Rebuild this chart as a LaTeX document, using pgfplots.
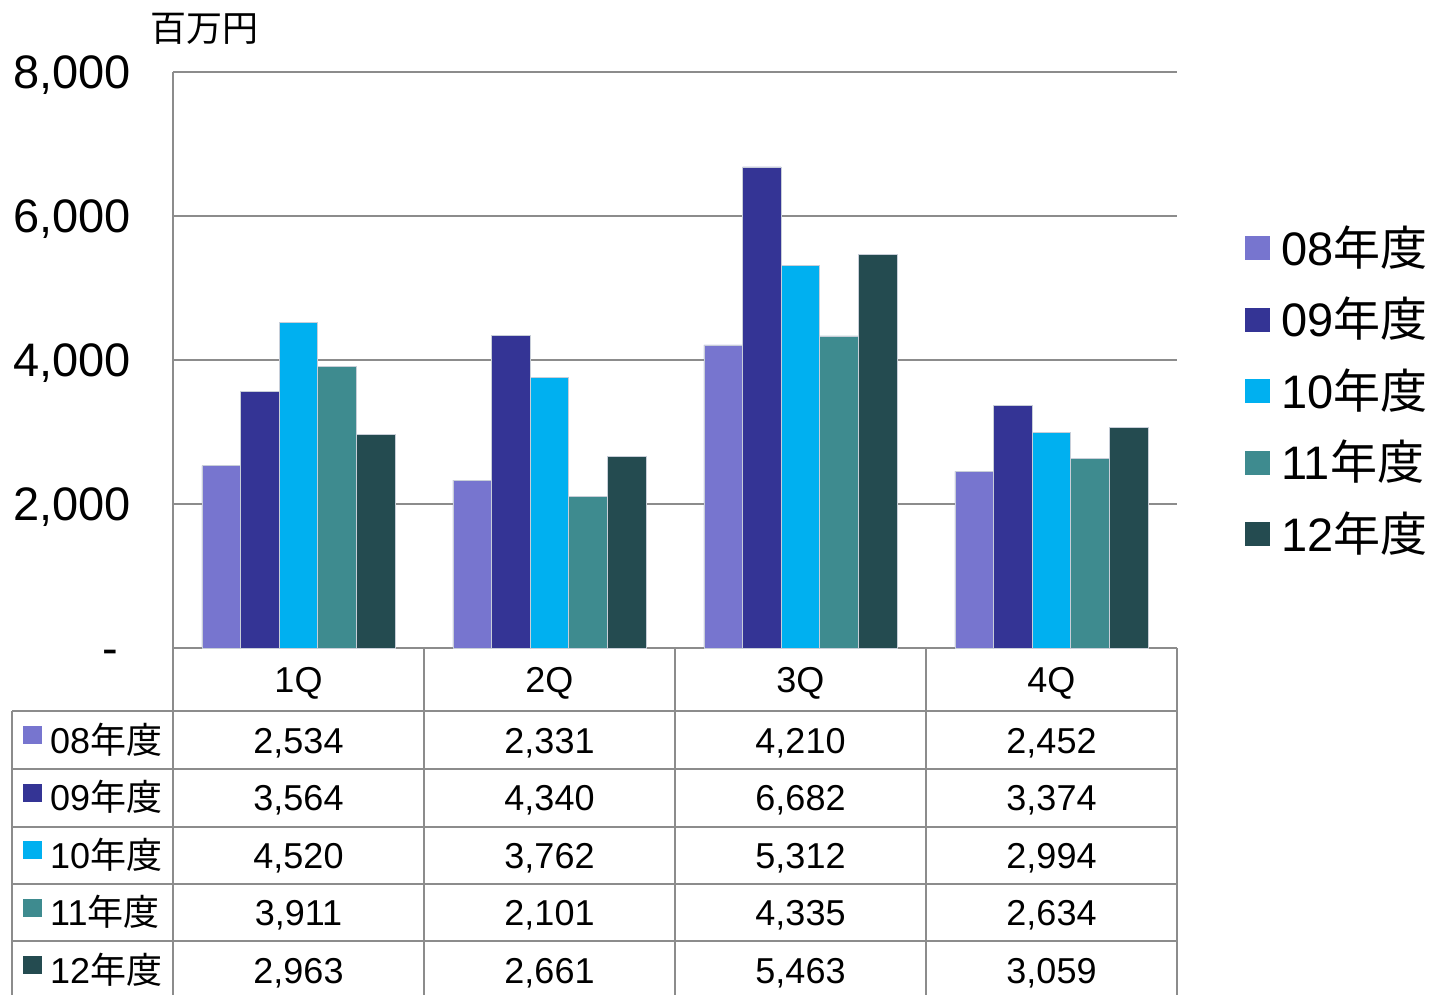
\documentclass[border=0pt]{standalone}
\usepackage{pgfplots}
\usepackage{pgfplotstable}
\pgfplotsset{compat=1.18}
\usepackage{fontspec}
\setmainfont{Liberation Sans}
\newfontfamily\jp{Noto Sans CJK JP}
\newcommand\nd{{\jp 年度}}

\definecolor{c08}{RGB}{119,117,207}
\definecolor{c09}{RGB}{52,52,149}
\definecolor{c10}{RGB}{0,176,240}
\definecolor{c11}{RGB}{62,139,143}
\definecolor{c12}{RGB}{36,75,80}
\definecolor{gridgray}{RGB}{140,140,140}
\definecolor{baredge}{RGB}{200,206,216}

% quarterly sales, million yen
\pgfplotstableread{
q y08 y09 y10 y11 y12
0 2534 3564 4520 3911 2963
1 2331 4340 3762 2101 2661
2 4210 6682 5312 4335 5463
3 2452 3374 2994 2634 3059
}\sales

\pgfkeys{/pgf/number format/.cd, fixed, precision=0, 1000 sep={,}, assume math mode=true}

\begin{document}
\begin{tikzpicture}
\begin{axis}[
  at={(173pt,-648pt)}, anchor=south west,
  scale only axis, width=1004pt, height=576pt,
  xmin=-0.5, xmax=3.5, ymin=0, ymax=8000,
  ybar=0pt, bar width=38.6pt,
  xtick={0,1,2,3}, xticklabels={1Q,2Q,3Q,4Q},
  xticklabel style={font=\fontsize{36}{40}\selectfont, anchor=base, yshift=-44pt},
  major tick length=0pt,
  ytick={0,2000,4000,6000,8000},
  yticklabels={{-\rule{13pt}{0pt}},{2,000},{4,000},{6,000},{8,000}},
  yticklabel style={font=\fontsize{47}{52}\selectfont, inner sep=0pt,
    text height=33pt, text depth=0pt, xshift=-42pt},
  ymajorgrids, grid style={draw=gridgray, line width=2pt},
  axis x line*=bottom, axis y line*=left,
  axis line style={draw=gridgray, line width=2pt, -},
  clip=false,
]
\addplot[fill=c08, draw=baredge, line width=0.6pt] table[x=q, y=y08] {\sales};
\addplot[fill=c09, draw=baredge, line width=0.6pt] table[x=q, y=y09] {\sales};
\addplot[fill=c10, draw=baredge, line width=0.6pt] table[x=q, y=y10] {\sales};
\addplot[fill=c11, draw=baredge, line width=0.6pt] table[x=q, y=y11] {\sales};
\addplot[fill=c12, draw=baredge, line width=0.6pt] table[x=q, y=y12] {\sales};
\end{axis}

\begin{scope}[x=1pt, y=-1pt]
\path[use as bounding box] (0,0) rectangle (1431,995);

% unit
\node[anchor=west, inner sep=0pt, font=\fontsize{36}{40}\selectfont\jp] at (150,29) {百万円};

% data table grid
\begin{scope}[draw=gridgray, line width=2pt]
  \foreach \yy in {711,769,827,884,941}
    \draw (12,\yy) -- (1177,\yy);
  \draw (12,711) -- (12,995);
  \foreach \xx in {173,424,675,926,1177}
    \draw (\xx,648) -- (\xx,995);
\end{scope}

% data table: row labels and values
\foreach \col/\lab [count=\r from 0] in {c08/08,c09/09,c10/10,c11/11,c12/12} {
  \pgfmathsetmacro\base{753+57.5*\r}
  \fill[\col] (23,\base-27) rectangle (42,\base-9);
  \node[anchor=base west, inner sep=0pt, font=\fontsize{36}{40}\selectfont] at (50,\base) {\lab\nd};
  \foreach \c [count=\k from 0] in {0,1,2,3} {
    \pgfplotstablegetelem{\c}{y\lab}\of\sales
    \pgfmathsetmacro\cx{298.5+251*\k}
    \node[anchor=base, inner sep=0pt, font=\fontsize{36}{40}\selectfont] at (\cx,\base)
      {\pgfmathprintnumber{\pgfplotsretval}};
  }
}

% legend
\foreach \col/\lab [count=\r from 0] in {c08/08,c09/09,c10/10,c11/11,c12/12} {
  \pgfmathsetmacro\cy{248+71.6*\r}
  \fill[\col] (1245,\cy-12) rectangle (1270,\cy+12);
  \node[anchor=base west, inner sep=0pt, font=\fontsize{47}{52}\selectfont] at (1281,\cy+17) {\lab\nd};
}
\end{scope}
\end{tikzpicture}
\end{document}
